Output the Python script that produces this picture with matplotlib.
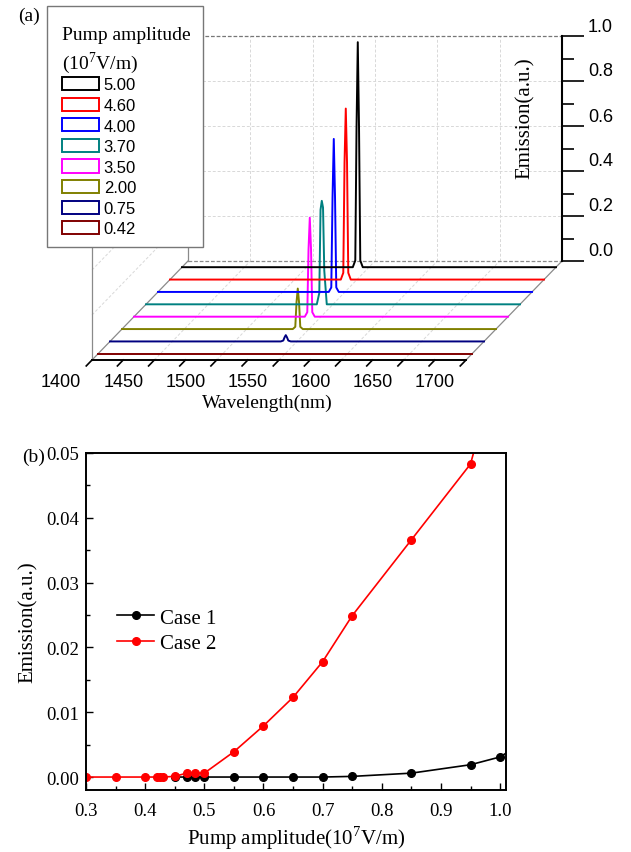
import matplotlib
matplotlib.use("Agg")
import matplotlib.pyplot as plt
import matplotlib.transforms as mtransforms
from matplotlib.lines import Line2D
from matplotlib.patches import Patch, Rectangle
from matplotlib.ticker import MultipleLocator, FormatStrFormatter

plt.rcParams['font.family'] = 'Liberation Serif'
plt.rcParams['mathtext.fontset'] = 'custom'
plt.rcParams['mathtext.rm'] = 'Liberation Serif'
SANS = 'Liberation Sans'

# ---- (a) emission spectra, front -> back ----
pump_labels = ['0.42', '0.75', '2.00', '3.50', '3.70', '4.00', '4.60', '5.00']
pump_colors = ['#800000', '#000080', '#808000', '#ff00ff', '#008080', '#0000ff', '#ff0000', '#000000']
wavelength = [1400, 1537, 1539, 1540, 1541, 1542, 1543, 1545, 1700]
spec_042 = [0, 0, 0, 0, 0, 0, 0, 0, 0]
spec_075 = [0, 0, 0.004, 0.018, 0.028, 0.018, 0.004, 0, 0]
spec_200 = [0, 0, 0.01, 0.12, 0.18, 0.12, 0.01, 0, 0]
spec_350 = [0, 0, 0.02, 0.30, 0.44, 0.30, 0.02, 0, 0]
spec_370 = [0, 0, 0.05, 0.42, 0.46, 0.43, 0.15, 0, 0]
spec_400 = [0, 0, 0.02, 0.42, 0.68, 0.42, 0.02, 0, 0]
spec_460 = [0, 0, 0.03, 0.52, 0.76, 0.52, 0.03, 0, 0]
spec_500 = [0, 0, 0.03, 0.62, 1.00, 0.62, 0.03, 0, 0]
spectra = [spec_042, spec_075, spec_200, spec_350, spec_370, spec_400, spec_460, spec_500]

wl_ticks = [1400, 1450, 1500, 1550, 1600, 1650, 1700]
em_ticks = [0.0, 0.2, 0.4, 0.6, 0.8, 1.0]

# ---- (b) emission vs pump amplitude ----
case1_x = [0.45, 0.47, 0.485, 0.50, 0.55, 0.60, 0.65, 0.70, 0.75, 0.85, 0.95, 1.00, 1.05]
case1_y = [0, 0, 0, 0, 0, 0, 0, 0, 0.0001, 0.0006, 0.0019, 0.0031, 0.006]
case2_x = [0.30, 0.35, 0.40, 0.42, 0.425, 0.43, 0.45, 0.47, 0.485, 0.50, 0.55, 0.60, 0.65, 0.70, 0.75, 0.85, 0.95, 1.00]
case2_y = [0, 0, 0, 0, 0, 0, 0.0001, 0.0006, 0.0006, 0.0006, 0.0039, 0.0079, 0.0123, 0.0178, 0.0249, 0.0366, 0.0483, 0.065]

fig = plt.figure(figsize=(6.31, 8.53), dpi=100)
W, H = 631, 853

# back wall of the pseudo-3D box
ax = fig.add_axes([188 / W, 1 - 262 / H, 374 / W, 225 / H])
ax.set_xlim(1400, 1700)
ax.set_ylim(0, 1)
ax.set_autoscale_on(False)
for s in ['left', 'top', 'bottom']:
    ax.spines[s].set_visible(False)
ax.spines['right'].set_linewidth(1.5)
ax.set_xticks([])
ax.yaxis.tick_right()
ax.set_yticks(em_ticks)
ax.yaxis.set_minor_locator(MultipleLocator(0.1))
ax.tick_params(axis='y', which='major', direction='out', length=15.5, width=1.2, labelright=False)
ax.tick_params(axis='y', which='minor', direction='out', length=8.5, width=1.2)
ax.patch.set_alpha(0)

DX, DY = -96, -99  # display offset of the front face relative to the back wall


def shift(f):
    return ax.transData + mtransforms.Affine2D().translate((1 - f) * DX, (1 - f) * DY)


def proj(w, e, f):
    x, y = ax.transData.transform((w, e))
    return x + (1 - f) * DX, y + (1 - f) * DY


def box_line(p0, p1, **kw):
    ax.add_line(Line2D([p0[0], p1[0]], [p0[1], p1[1]], transform=mtransforms.IdentityTransform(),
                       clip_on=False, **kw))


grid_kw = dict(color='#d8d8d8', lw=0.7, ls=(0, (3, 2)), zorder=0.5)
edge_kw = dict(color='#8a8a8a', lw=0.9, zorder=0.8)
for w in wl_ticks[1:-1]:
    box_line(proj(w, 0, 1), proj(w, 1, 1), **grid_kw)
    box_line(proj(w, 0, 0), proj(w, 0, 1), **grid_kw)
for e in em_ticks[1:-1]:
    box_line(proj(1400, e, 1), proj(1700, e, 1), **grid_kw)
    box_line(proj(1400, e, 0), proj(1400, e, 1), **grid_kw)
box_line(proj(1400, 0, 1), proj(1700, 0, 1), color='#8a8a8a', lw=0.9, ls=(0, (3, 1.5)), zorder=0.8)
box_line(proj(1400, 1, 1), proj(1700, 1, 1), color='#777777', lw=0.9, ls=(0, (3, 1.5)), zorder=0.8)
box_line(proj(1400, 0, 0), proj(1400, 0, 1), **edge_kw)
box_line(proj(1700, 0, 0), proj(1700, 0, 1), **edge_kw)
box_line(proj(1400, 0, 1), proj(1400, 1, 1), **edge_kw)
box_line(proj(1400, 0, 0), proj(1400, 1, 0), **edge_kw)
box_line(proj(1400, 1, 0), proj(1400, 1, 1), **edge_kw)

# front wavelength axis
box_line(proj(1400, 0, 0), proj(1700, 0, 0), color='black', lw=1.4, zorder=3)
for w in range(1400, 1701, 25):
    box_line(proj(w, 0, 0), proj(w, 0, -0.06), color='black', lw=1.2, zorder=3)
for w in wl_ticks:
    ax.text(w, 0, str(w), transform=shift(0) + mtransforms.Affine2D().translate(-31, -22),
            ha='center', va='center', fontsize=13, family=SANS)
ax.text(1550, 0, 'Wavelength(nm)', transform=shift(0) + mtransforms.Affine2D().translate(-12, -42),
        ha='center', va='center', fontsize=14)

# emission axis labels (right side, drawn slightly above the ticks)
for e in em_ticks:
    ax.text(1700, e, f'{e:.1f}', transform=ax.transData + mtransforms.Affine2D().translate(26, 10),
            ha='left', va='center', fontsize=13, family=SANS)
ax.text(525 / W, 1 - 118 / H, 'Emission(a.u.)', transform=fig.transFigure, rotation=90,
        ha='center', va='center', fontsize=15)

# spectra
n = len(spectra)
for k, (spec, col) in enumerate(zip(spectra, pump_colors)):
    f = (k + 0.5) / n
    ax.plot(wavelength, spec, color=col, lw=1.4, transform=shift(f), clip_on=False, zorder=2 + k * 0.01)

# legend of panel (a): white box, two-line title, open coloured boxes
fig.add_artist(Rectangle((47 / W, 1 - 248 / H), 156 / W, 241 / H, transform=fig.transFigure,
                         facecolor='white', edgecolor='#777777', lw=1.0, zorder=4))
fig.text(62 / W, 1 - 35 / H, 'Pump amplitude', fontsize=14, ha='left', va='center', zorder=6)
fig.text(62 / W, 1 - 63 / H, '(10$^{\\mathrm{7}}$V/m)', fontsize=14, ha='left', va='center', zorder=6)
handles = [Patch(facecolor='white', edgecolor=c, lw=1.4) for c in pump_colors[::-1]]
leg = fig.legend(handles, pump_labels[::-1], loc='upper left', bbox_to_anchor=(62 / W, 1 - 78 / H),
                 prop={'family': SANS, 'size': 12}, frameon=False, borderpad=0,
                 handlelength=2.2, handleheight=0.85, handletextpad=0.3, labelspacing=0.31,
                 borderaxespad=0)
leg.set_zorder(5)

fig.text(18 / W, 1 - 16 / H, '(a)', fontsize=14, ha='left', va='center')
fig.text(22 / W, 1 - 457 / H, '(b)', fontsize=14, ha='left', va='center')

# ---- (b) ----
bx = fig.add_axes([86 / W, 1 - 791 / H, 420 / W, 337 / H])
bx.plot(case1_x, case1_y, color='black', marker='o', ms=5.5, lw=1.2, label='Case 1')
bx.plot(case2_x, case2_y, color='red', marker='o', ms=5.5, lw=1.2, label='Case 2')
bx.set_xlim(0.3, 1.01)
bx.set_ylim(-0.002, 0.05)
bx.xaxis.set_major_locator(MultipleLocator(0.1))
bx.xaxis.set_minor_locator(MultipleLocator(0.05))
bx.yaxis.set_major_locator(MultipleLocator(0.01))
bx.yaxis.set_minor_locator(MultipleLocator(0.005))
bx.xaxis.set_major_formatter(FormatStrFormatter('%.1f'))
bx.yaxis.set_major_formatter(FormatStrFormatter('%.2f'))
bx.tick_params(which='both', direction='in', width=1.0, labelsize=13.5)
bx.tick_params(which='major', length=5)
bx.tick_params(which='minor', length=3)
bx.tick_params(axis='x', pad=9)
bx.tick_params(axis='y', pad=5)
for s in bx.spines.values():
    s.set_linewidth(1.4)
bx.set_xlabel('Pump amplitude(10$^{\\mathrm{7}}$V/m)', fontsize=15, labelpad=3)
bx.set_ylabel('Emission(a.u.)', fontsize=15, labelpad=6)
bx.legend(loc='upper left', bbox_to_anchor=(0.055, 0.565), frameon=False, fontsize=15,
          handlelength=1.75, handletextpad=0.3, labelspacing=0.3, borderaxespad=0)

fig.savefig('out.png', dpi=100)
